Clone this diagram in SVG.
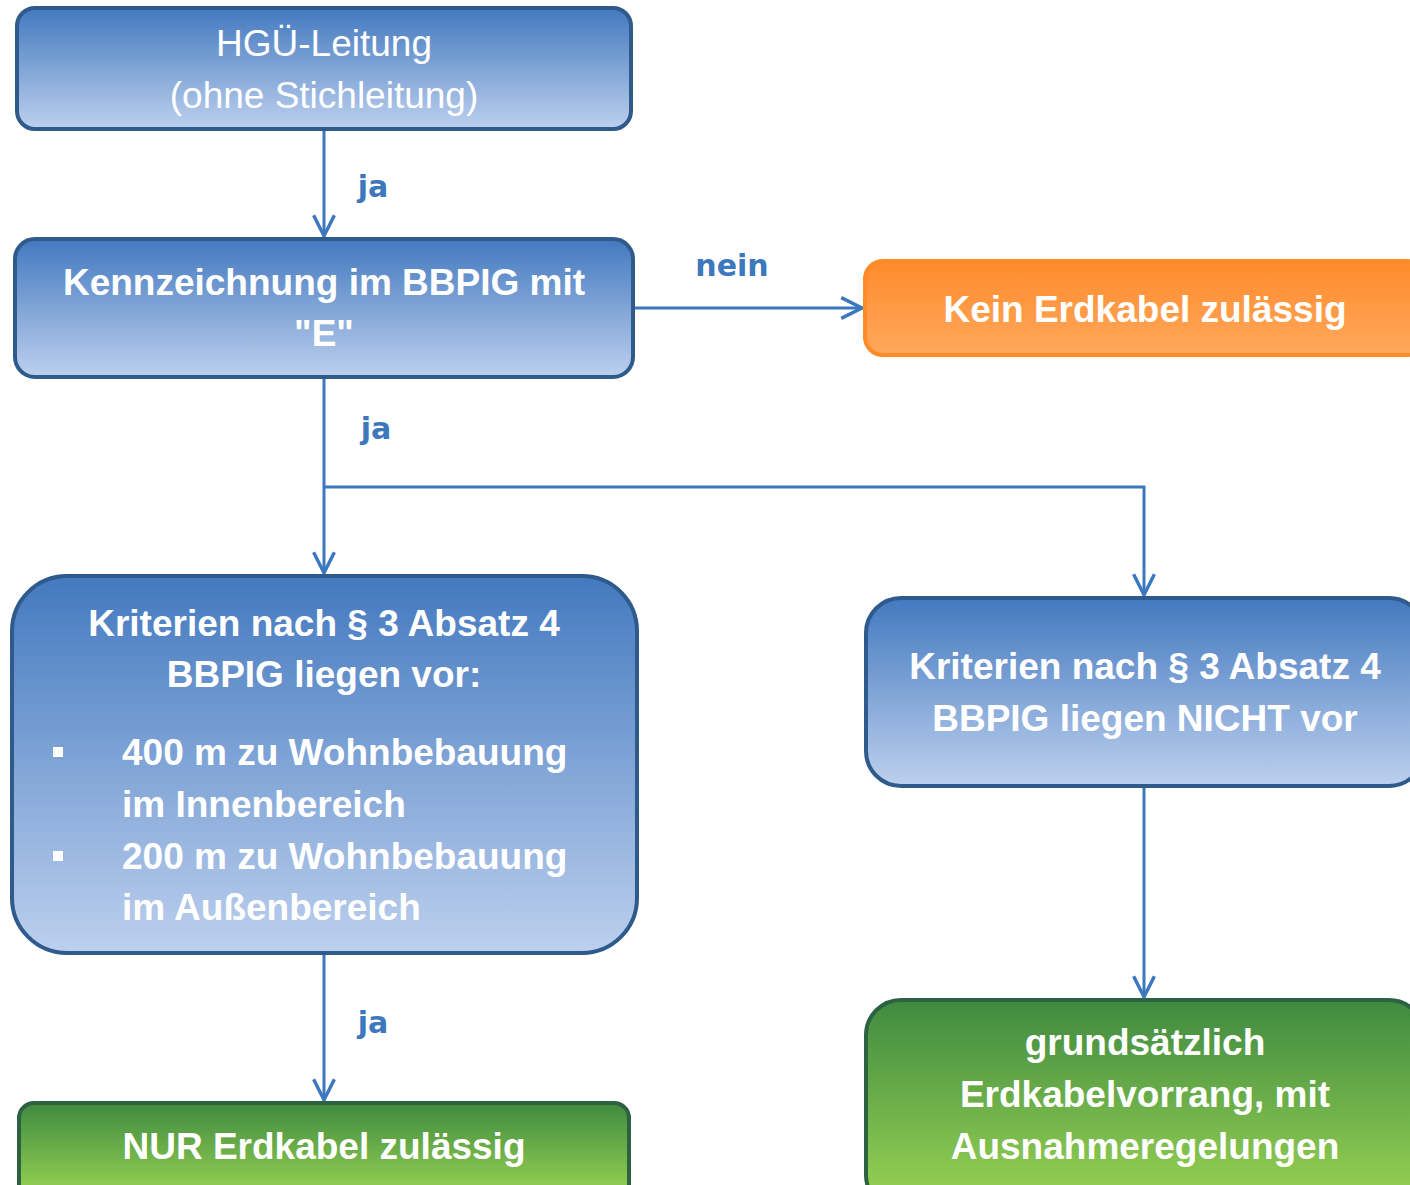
<svg xmlns="http://www.w3.org/2000/svg" width="1410" height="1185" viewBox="0 0 1410 1185">
<defs>
<linearGradient id="gBlue" x1="0" y1="0" x2="0" y2="1">
<stop offset="0" stop-color="#4379BF"/>
<stop offset="1" stop-color="#BDD0EE"/>
</linearGradient>
<linearGradient id="gOrange" x1="0" y1="0" x2="0" y2="1">
<stop offset="0" stop-color="#FF8B2C"/>
<stop offset="1" stop-color="#FFA85C"/>
</linearGradient>
<linearGradient id="gGreen" x1="0" y1="0" x2="0" y2="1">
<stop offset="0" stop-color="#3F8A40"/>
<stop offset="1" stop-color="#93CE52"/>
</linearGradient>
<linearGradient id="gGreenShort" gradientUnits="userSpaceOnUse" x1="0" y1="1103" x2="0" y2="1190">
<stop offset="0" stop-color="#3F8A40"/>
<stop offset="1" stop-color="#93CE52"/>
</linearGradient>
<linearGradient id="gGreenR" gradientUnits="userSpaceOnUse" x1="0" y1="1000" x2="0" y2="1190">
<stop offset="0" stop-color="#3F8A40"/>
<stop offset="1" stop-color="#93CE52"/>
</linearGradient>
<marker id="arr" markerUnits="userSpaceOnUse" markerWidth="30" markerHeight="30" viewBox="-22 -12 26 24" refX="0" refY="0" orient="auto">
<path d="M-18,-9 L0,0 L-18,9" fill="none" stroke="#3C78BE" stroke-width="3"/>
</marker>
</defs>
<style>
.blue{fill:url(#gBlue);stroke:#2E5A8C;stroke-width:4}
.orange{fill:url(#gOrange);stroke:#FF8A28;stroke-width:4}
.green{stroke:#2C6142;stroke-width:4}
.t{font-family:"Liberation Sans",Arial,sans-serif;font-size:37px;fill:#FFFFFF;text-anchor:middle}
.b{font-weight:bold}
.l{text-anchor:start}
.lab{font-family:"DejaVu Sans",Verdana,sans-serif;font-size:30px;font-weight:bold;fill:#3C78BE;text-anchor:middle}
.c{fill:none;stroke:#3C78BE;stroke-width:3}
</style>
<g id="connectors">
<line class="c" x1="324" y1="130" x2="324" y2="236" marker-end="url(#arr)"/>
<line class="c" x1="633" y1="308" x2="862" y2="308" marker-end="url(#arr)"/>
<line class="c" x1="324" y1="378" x2="324" y2="573" marker-end="url(#arr)"/>
<polyline class="c" points="324,487 1144,487 1144,595" marker-end="url(#arr)"/>
<line class="c" x1="1144" y1="787" x2="1144" y2="997" marker-end="url(#arr)"/>
<line class="c" x1="324" y1="954" x2="324" y2="1100" marker-end="url(#arr)"/>
<text class="lab" x="373" y="197">ja</text>
<text class="lab" x="732" y="276">nein</text>
<text class="lab" x="376" y="439">ja</text>
<text class="lab" x="373" y="1033">ja</text>
</g>
<g id="node-hgue">
<rect class="blue" x="17" y="8" width="614" height="121" rx="18"/>
<text class="t" x="324" y="56">HGÜ-Leitung</text>
<text class="t" x="324" y="108">(ohne Stichleitung)</text>
</g>
<g id="node-kennzeichnung">
<rect class="blue" x="15" y="239" width="618" height="138" rx="20"/>
<text class="t b" x="324" y="295">Kennzeichnung im BBPIG mit</text>
<text class="t b" x="324" y="346">"E"</text>
</g>
<g id="node-kein">
<rect class="orange" x="865" y="261" width="560" height="94" rx="18"/>
<text class="t b" x="1145" y="322">Kein Erdkabel zulässig</text>
</g>
<g id="node-kriterien-vor">
<rect class="blue" x="12" y="576" width="625" height="377" rx="55"/>
<text class="t b" x="324" y="636">Kriterien nach § 3 Absatz 4</text>
<text class="t b" x="324" y="687">BBPIG liegen vor:</text>
<rect x="53" y="747" width="10" height="10" fill="#FFFFFF"/>
<text class="t b l" x="122" y="765">400 m zu Wohnbebauung</text>
<text class="t b l" x="122" y="817">im Innenbereich</text>
<rect x="53" y="851" width="10" height="10" fill="#FFFFFF"/>
<text class="t b l" x="122" y="869">200 m zu Wohnbebauung</text>
<text class="t b l" x="122" y="920">im Außenbereich</text>
</g>
<g id="node-kriterien-nicht">
<rect class="blue" x="866" y="598" width="558" height="188" rx="35"/>
<text class="t b" x="1145" y="679">Kriterien nach § 3 Absatz 4</text>
<text class="t b" x="1145" y="731">BBPIG liegen NICHT vor</text>
</g>
<g id="node-nur">
<rect class="green" fill="url(#gGreenShort)" x="19" y="1103" width="610" height="100" rx="15"/>
<text class="t b" x="324" y="1159">NUR Erdkabel zulässig</text>
</g>
<g id="node-grundsaetzlich">
<rect class="green" fill="url(#gGreenR)" x="866" y="1000" width="558" height="210" rx="35"/>
<text class="t b" x="1145" y="1055">grundsätzlich</text>
<text class="t b" x="1145" y="1107">Erdkabelvorrang, mit</text>
<text class="t b" x="1145" y="1159">Ausnahmeregelungen</text>
</g>
</svg>
